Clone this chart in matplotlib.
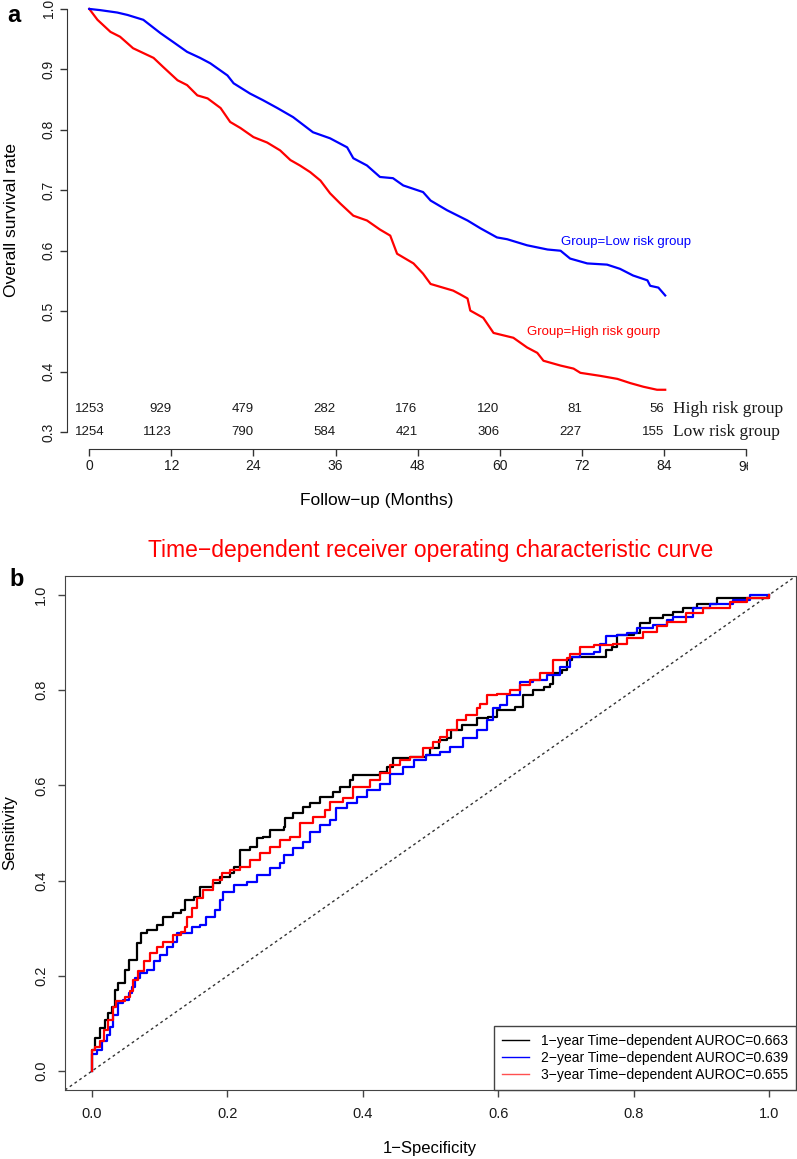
import numpy as np
import matplotlib
matplotlib.use("Agg")
import matplotlib.pyplot as plt
from matplotlib.lines import Line2D
from matplotlib.transforms import Bbox

plt.rcParams["font.family"] = ["Liberation Sans", "DejaVu Sans"]

# ---- panel a: Kaplan-Meier curves ----
low_t = [0, 1.6, 4.1, 5.6, 7.9, 10.4, 12.3, 14.3, 16.2, 17.7, 20.2, 21.1, 23.5, 25.4,
         27.5, 29.8, 32.7, 35.2, 37.7, 38.6, 40.6, 42.5, 44.4, 45.9, 48.8, 49.9, 52.3,
         55.3, 57.2, 59.6, 61.1, 64.0, 67.0, 68.9, 70.3, 72.8, 75.7, 77.6, 79.5, 81.6,
         82.0, 83.2, 84.2]
low_s = [1.0, 0.998, 0.994, 0.99, 0.982, 0.96, 0.945, 0.929, 0.919, 0.91,
         0.89, 0.877, 0.86, 0.849, 0.836, 0.821, 0.796, 0.786, 0.771, 0.753,
         0.741, 0.722, 0.72, 0.708, 0.697, 0.683, 0.667, 0.65, 0.637, 0.622,
         0.619, 0.609, 0.602, 0.6, 0.587, 0.579, 0.577, 0.57, 0.559, 0.551,
         0.542, 0.539, 0.526]

high_t = [0, 1.2, 3.1, 4.5, 6.4, 9.4, 10.8, 12.9, 14.3, 15.8,
          17.3, 19.2, 20.6, 22.1, 24.0, 26.0, 27.9, 29.4, 30.8, 32.3,
          33.8, 35.2, 36.7, 38.6, 40.6, 42.5, 44.0, 45.0, 47.4, 48.8,
          49.9, 52.3, 53.2, 54.2, 55.3, 55.7, 57.6, 59.1, 62.0, 64.0,
          65.5, 66.4, 68.9, 70.8, 71.8, 74.7, 77.2, 79.1, 81.0, 83.0, 84.2]
high_s = [1.0, 0.982, 0.962, 0.954, 0.935, 0.919, 0.904, 0.882, 0.874, 0.857,
          0.852, 0.836, 0.813, 0.803, 0.788, 0.779, 0.766, 0.75, 0.741, 0.73,
          0.716, 0.695, 0.678, 0.658, 0.65, 0.635, 0.625, 0.595, 0.579, 0.562,
          0.545, 0.537, 0.534, 0.528, 0.521, 0.501, 0.489, 0.464, 0.456, 0.44,
          0.431, 0.418, 0.41, 0.405, 0.398, 0.393, 0.388, 0.381, 0.375, 0.37, 0.37]

risk_times = [0, 12, 24, 36, 48, 60, 72, 84]
risk_high = [1253, 929, 479, 282, 176, 120, 81, 56]
risk_low = [1254, 1123, 790, 584, 421, 306, 227, 155]

# ---- panel b: time-dependent ROC curves ----
fpr_1y = [0, 0, 0.004, 0.012, 0.019, 0.024, 0.029, 0.034, 0.039, 0.049, 0.054, 0.066, 0.073,
          0.081, 0.096, 0.105, 0.12, 0.132, 0.137, 0.15, 0.16, 0.179, 0.189, 0.204, 0.209,
          0.219, 0.233, 0.243, 0.253, 0.263, 0.283, 0.285, 0.297, 0.312, 0.322, 0.337, 0.352,
          0.356, 0.366, 0.381, 0.386, 0.411, 0.425, 0.435, 0.445, 0.47, 0.494, 0.499, 0.512,
          0.524, 0.531, 0.546, 0.561, 0.568, 0.585, 0.598, 0.625, 0.637, 0.652, 0.667, 0.677,
          0.681, 0.694, 0.701, 0.709, 0.745, 0.76, 0.768, 0.775, 0.8, 0.809, 0.824, 0.844,
          0.859, 0.873, 0.893, 0.923, 0.972, 1.0]
tpr_1y = [0, 0.044, 0.069, 0.09, 0.107, 0.121, 0.135, 0.17, 0.184, 0.212, 0.233, 0.268, 0.289,
          0.296, 0.307, 0.324, 0.331, 0.338, 0.359, 0.366, 0.387, 0.394, 0.408, 0.415, 0.429,
          0.464, 0.471, 0.489, 0.492, 0.506, 0.513, 0.531, 0.541, 0.555, 0.562, 0.576, 0.576,
          0.587, 0.597, 0.611, 0.622, 0.622, 0.629, 0.639, 0.657, 0.66, 0.664, 0.678, 0.695,
          0.699, 0.716, 0.727, 0.727, 0.741, 0.744, 0.758, 0.764, 0.79, 0.8, 0.807, 0.814,
          0.836, 0.842, 0.863, 0.87, 0.87, 0.884, 0.891, 0.916, 0.92, 0.941, 0.951, 0.958,
          0.965, 0.972, 0.982, 0.993, 0.993, 1.0]

fpr_2y = [0, 0, 0.007, 0.014, 0.022, 0.027, 0.031, 0.039, 0.046, 0.054, 0.059, 0.064, 0.071,
          0.081, 0.091, 0.1, 0.11, 0.12, 0.125, 0.14, 0.147, 0.16, 0.169, 0.182, 0.189, 0.194,
          0.209, 0.229, 0.243, 0.263, 0.278, 0.283, 0.297, 0.312, 0.322, 0.337, 0.352, 0.361,
          0.376, 0.391, 0.406, 0.425, 0.44, 0.46, 0.475, 0.494, 0.514, 0.529, 0.548, 0.568,
          0.583, 0.593, 0.603, 0.613, 0.632, 0.652, 0.672, 0.691, 0.706, 0.721, 0.741, 0.75,
          0.76, 0.775, 0.79, 0.805, 0.829, 0.849, 0.859, 0.888, 0.913, 0.947, 0.972, 1.0]
tpr_2y = [0, 0.035, 0.044, 0.062, 0.076, 0.093, 0.118, 0.142, 0.149, 0.163, 0.177, 0.195, 0.205,
          0.212, 0.23, 0.244, 0.261, 0.272, 0.289, 0.289, 0.303, 0.307, 0.324, 0.338, 0.359, 0.377,
          0.391, 0.398, 0.412, 0.426, 0.436, 0.454, 0.468, 0.482, 0.503, 0.517, 0.527, 0.552,
          0.562, 0.576, 0.59, 0.604, 0.625, 0.639, 0.653, 0.664, 0.671, 0.681, 0.699, 0.716,
          0.737, 0.762, 0.769, 0.79, 0.818, 0.821, 0.832, 0.849, 0.87, 0.877, 0.881, 0.898,
          0.914, 0.916, 0.92, 0.93, 0.937, 0.947, 0.954, 0.972, 0.982, 0.989, 1.0, 1.0]

fpr_3y = [0, 0, 0.004, 0.012, 0.017, 0.024, 0.031, 0.036, 0.049, 0.056, 0.061, 0.068, 0.076,
          0.086, 0.096, 0.105, 0.12, 0.132, 0.137, 0.14, 0.147, 0.155, 0.164, 0.179, 0.192,
          0.204, 0.219, 0.233, 0.248, 0.263, 0.278, 0.292, 0.307, 0.327, 0.344, 0.352, 0.371,
          0.386, 0.411, 0.425, 0.44, 0.455, 0.47, 0.489, 0.504, 0.514, 0.524, 0.539, 0.553,
          0.568, 0.573, 0.583, 0.598, 0.617, 0.632, 0.647, 0.662, 0.681, 0.701, 0.706, 0.721,
          0.741, 0.77, 0.79, 0.814, 0.834, 0.849, 0.878, 0.903, 0.942, 0.967, 1.0]
tpr_3y = [0, 0.044, 0.051, 0.062, 0.086, 0.107, 0.135, 0.146, 0.156, 0.167, 0.191, 0.209, 0.23,
          0.247, 0.261, 0.272, 0.286, 0.293, 0.303, 0.324, 0.342, 0.363, 0.38, 0.401, 0.415,
          0.422, 0.429, 0.443, 0.457, 0.471, 0.485, 0.492, 0.52, 0.534, 0.548, 0.566, 0.573,
          0.597, 0.611, 0.627, 0.643, 0.653, 0.66, 0.678, 0.692, 0.702, 0.716, 0.737, 0.748,
          0.762, 0.772, 0.79, 0.793, 0.8, 0.811, 0.821, 0.836, 0.863, 0.867, 0.877, 0.891,
          0.895, 0.898, 0.909, 0.923, 0.934, 0.944, 0.962, 0.972, 0.986, 0.993, 1.0]

roc_labels = ["1\u2212year Time\u2212dependent AUROC=0.663",
              "2\u2212year Time\u2212dependent AUROC=0.639",
              "3\u2212year Time\u2212dependent AUROC=0.655"]

W, H = 797, 1159
fig = plt.figure(figsize=(W / 100, H / 100), dpi=100)
axis_col = "#333333"
txt_col = "#1a1a1a"

# ---------------- panel a ----------------
ax1 = fig.add_axes([66.7 / W, 1 - 449 / H, 701.8 / W, 457 / H])
ax1.set_xlim(-3.3, 99.3)
ax1.set_ylim(0.272, 1.028)
ax1.plot(high_t, high_s, color="red", lw=1.6)
ax1.plot(low_t, low_s, color="blue", lw=1.6)

for s in ["top", "right"]:
    ax1.spines[s].set_visible(False)
ax1.spines["left"].set_bounds(0.3, 1.0)
ax1.spines["bottom"].set_bounds(0, 96)
for s in ["left", "bottom"]:
    ax1.spines[s].set_color(axis_col)
ax1.set_xticks(np.arange(0, 97, 12))
ax1.set_xticklabels([str(v) for v in range(0, 85, 12)] + [""])
ax1.set_yticks(np.arange(0.3, 1.01, 0.1))
ax1.set_yticklabels(["%.1f" % v for v in np.arange(0.3, 1.01, 0.1)], rotation=90, va="center")
ax1.tick_params(axis="both", direction="out", length=5, width=1, color=axis_col,
                labelsize=10, labelcolor=txt_col)
ax1.tick_params(axis="x", pad=2.5)
ax1.tick_params(axis="y", pad=3)

# last tick label is cut by the image edge in the original
t96 = fig.text(746 / W, 1 - 467 / H, "96", ha="center", va="center", size=10, color=txt_col)
t96.set_clip_box(Bbox([[0, 0], [748, H]]))
t96.set_clip_on(True)

ax1.text(68.9, 0.614, "Group=Low risk group", color="blue", size=9.5, ha="left", va="center")
ax1.text(64.0, 0.466, "Group=High risk gourp", color="red", size=9.5, ha="left", va="center")

for i, t in enumerate(risk_times):
    ha = "center" if i == 0 else "right"
    ax1.text(t, 0.338, str(risk_high[i]), ha=ha, va="center", size=9.5, color=txt_col)
    ax1.text(t, 0.3, str(risk_low[i]), ha=ha, va="center", size=9.5, color=txt_col)
ax1.text(85.3, 0.338, "High risk group", ha="left", va="center", size=12.5,
         family="Liberation Serif", color=txt_col)
ax1.text(85.3, 0.3, "Low risk group", ha="left", va="center", size=12.5,
         family="Liberation Serif", color=txt_col)

fig.text(12 / W, 1 - 220 / H, "Overall survival rate", rotation=90, ha="center", va="center", size=12.5)
fig.text(377 / W, 1 - 500 / H, "Follow\u2212up (Months)", ha="center", va="center", size=12.5)
fig.text(14 / W, 1 - 16 / H, "a", weight="bold", size=17, ha="center", va="center")

# ---------------- panel b ----------------
ax2 = fig.add_axes([65 / W, 1 - 1090 / H, 731 / W, 514 / H])
ax2.set_xlim(-0.04, 1.04)
ax2.set_ylim(-0.04, 1.04)
ax2.axline((0, 0), slope=1, color="#333333", lw=1, dashes=(2, 2.2))
ax2.step(fpr_1y, tpr_1y, where="post", color="black", lw=1.6)
ax2.step(fpr_2y, tpr_2y, where="post", color="blue", lw=1.6)
ax2.step(fpr_3y, tpr_3y, where="post", color="red", lw=1.6)

for s in ax2.spines.values():
    s.set_color("#444444")
ax2.set_xticks(np.arange(0, 1.01, 0.2))
ax2.set_xticklabels(["%.1f" % v for v in np.arange(0, 1.01, 0.2)])
ax2.set_yticks(np.arange(0, 1.01, 0.2))
ax2.set_yticklabels(["%.1f" % v for v in np.arange(0, 1.01, 0.2)], rotation=90, va="center")
ax2.tick_params(axis="both", direction="out", length=5, width=1, color="#444444",
                labelsize=10.5, labelcolor=txt_col)
ax2.tick_params(axis="x", pad=7.5)
ax2.tick_params(axis="y", pad=7)

handles = [Line2D([], [], color="black", lw=1),
           Line2D([], [], color="blue", lw=1),
           Line2D([], [], color="#ff5050", lw=1)]
leg = ax2.legend(handles, roc_labels, loc="lower right", borderaxespad=0, fancybox=False,
                 framealpha=1, edgecolor="#444444", fontsize=10, handlelength=1.9,
                 handletextpad=0.85, labelspacing=0.2, borderpad=0.6)
leg.get_frame().set_linewidth(1)

fig.text(431 / W, 1 - 550 / H, "Time\u2212dependent receiver operating characteristic curve",
         color="red", size=16.5, ha="center", va="center")
fig.text(10 / W, 1 - 833 / H, "Sensitivity", rotation=90, ha="center", va="center", size=12)
fig.text(430 / W, 1 - 1148 / H, "1\u2212Specificity", ha="center", va="center", size=12)
fig.text(17 / W, 1 - 580 / H, "b", weight="bold", size=17, ha="center", va="center")

fig.savefig("out.png", dpi=100)
